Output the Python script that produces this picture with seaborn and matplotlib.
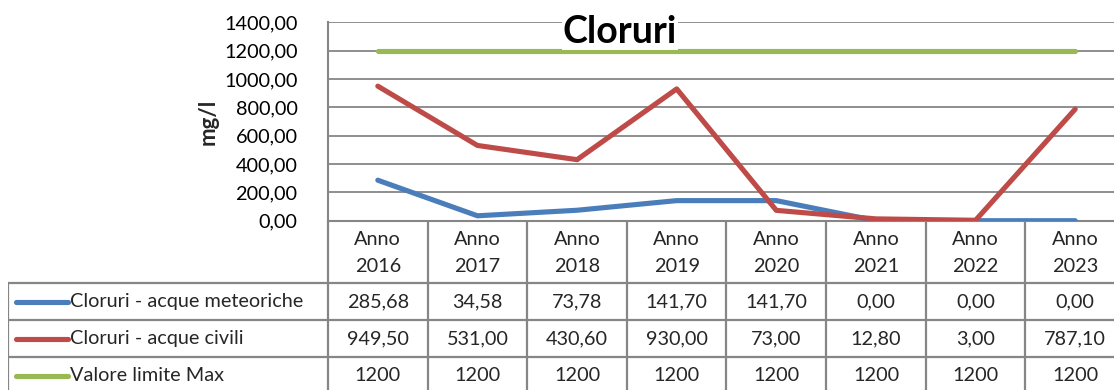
import matplotlib
matplotlib.use("Agg")
import matplotlib.pyplot as plt
from matplotlib.ticker import FuncFormatter, MultipleLocator
import seaborn as sns
import pandas as pd

# Data
years = ["2016", "2017", "2018", "2019", "2020", "2021", "2022", "2023"]
meteoriche = [285.68, 34.58, 73.78, 141.70, 141.70, 0.00, 0.00, 0.00]
civili = [949.50, 531.00, 430.60, 930.00, 73.00, 12.80, 3.00, 787.10]
limite = [1200, 1200, 1200, 1200, 1200, 1200, 1200, 1200]
series_names = ["Cloruri - acque meteoriche", "Cloruri - acque civili", "Valore limite Max"]
series_values = [meteoriche, civili, limite]
colors = ["#4A7EBB", "#BE4B48", "#98B954"]

sns.set_theme(style="white")
plt.rcParams["font.family"] = ["Lato", "DejaVu Sans"]

W, H = 1114, 390
fig = plt.figure(figsize=(W / 100, H / 100), dpi=100)

GRID = "#868686"
plot_left, plot_right = 328, 1125
plot_top, plot_bottom = 22.3, 220.7
ax = fig.add_axes([plot_left / W, (H - plot_bottom) / H,
                   (plot_right - plot_left) / W, (plot_bottom - plot_top) / H])

rows = []
for name, vals in zip(series_names, series_values):
    for i, v in enumerate(vals):
        rows.append({"pos": i, "val": v, "serie": name})
df = pd.DataFrame(rows)

sns.lineplot(data=df, x="pos", y="val", hue="serie", palette=colors,
             hue_order=series_names, linewidth=3.7, legend=False, ax=ax,
             solid_capstyle="round", zorder=3)

ax.set_xlim(-0.5, len(years) - 0.5)
ax.set_ylim(0, 1400)
ax.yaxis.set_major_locator(MultipleLocator(200))
ax.yaxis.set_major_formatter(FuncFormatter(lambda v, p: f"{v:.2f}".replace(".", ",")))
ax.tick_params(axis="y", labelsize=14.3, length=0, pad=22, colors="black")
ax.set_xticks([])
ax.set_xlabel("")
ax.set_ylabel("mg/l", fontsize=16, fontweight="bold", labelpad=4)
ax.grid(axis="y", color=GRID, linewidth=1.3)
for s in ["top", "right"]:
    ax.spines[s].set_visible(False)
for s in ["left", "bottom"]:
    ax.spines[s].set_color(GRID)
    ax.spines[s].set_linewidth(1.5)

ax.text(0.366, 0.95, "Cloruri", transform=ax.transAxes, ha="center", va="center",
        fontsize=27, fontweight="bold", color="black", zorder=5,
        bbox=dict(facecolor="white", edgecolor="none", pad=0.5))

# Data table below the plot
cat_w = (plot_right - plot_left) / len(years)
tab_left = 8
tab_top, tab_bottom = 221, 400
tax = fig.add_axes([tab_left / W, (H - tab_bottom) / H,
                    (plot_right - tab_left) / W, (tab_bottom - tab_top) / H])
x0 = -0.5 - (plot_left - tab_left) / cat_w
tax.set_xlim(x0, len(years) - 0.5)
tax.set_ylim(tab_bottom - tab_top, 0)
tax.axis("off")

header_h = 62
row_h = 37
row_edges = [header_h + k * row_h for k in range(len(series_names) + 1)]
lw = 1.6
# vertical lines
for k in range(len(years) + 1):
    tax.plot([k - 0.5, k - 0.5], [0, row_edges[-1]], color=GRID, lw=lw,
             solid_capstyle="butt")
tax.plot([x0 + 0.002, x0 + 0.002], [row_edges[0], row_edges[-1]], color=GRID, lw=lw)
# horizontal lines
for y in row_edges:
    tax.plot([x0, len(years) - 0.5], [y, y], color=GRID, lw=lw)

for i, yr in enumerate(years):
    tax.text(i, header_h / 2 + 1, f"Anno\n{yr}", ha="center", va="center",
             fontsize=14.3, linespacing=1.75)

for r, (name, vals, col) in enumerate(zip(series_names, series_values, colors)):
    yc = row_edges[r] + row_h / 2
    tax.plot([x0 + 0.08, x0 + 0.6], [yc, yc], color=col, lw=3.7, solid_capstyle="round")
    tax.text(x0 + 0.625, yc, name, ha="left", va="center", fontsize=14.3)
    for i, v in enumerate(vals):
        if name == "Valore limite Max":
            label = f"{v:d}"
        else:
            label = f"{v:.2f}".replace(".", ",")
        tax.text(i, yc, label, ha="center", va="center", fontsize=14.3)

fig.savefig("out.png", dpi=100)
